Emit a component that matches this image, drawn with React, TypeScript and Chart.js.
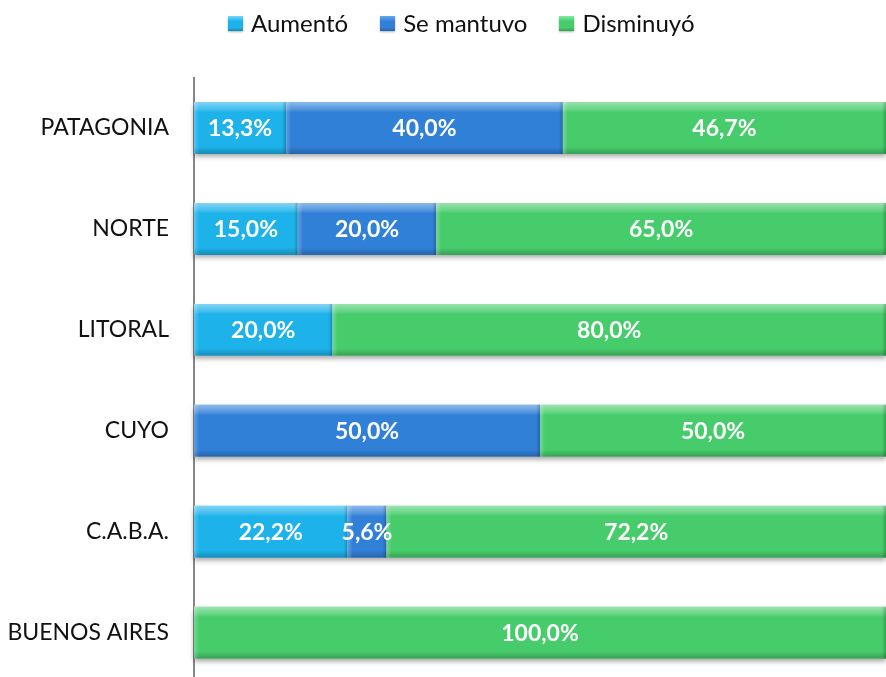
import { useEffect, useRef } from 'react';
import { Chart, registerables } from 'chart.js';
Chart.register(...registerables);

const categories = ['PATAGONIA', 'NORTE', 'LITORAL', 'CUYO', 'C.A.B.A.', 'BUENOS AIRES'];
const aumento = [13.3, 15.0, 20.0, 0, 22.2, 0];
const seMantuvo = [40.0, 20.0, 0, 50.0, 5.6, 0];
const disminuyo = [46.7, 65.0, 80.0, 50.0, 72.2, 100.0];
const seriesNames = ['Aumentó', 'Se mantuvo', 'Disminuyó'];
const seriesColors = ['#1db2ea', '#3180d8', '#47cc6c'];
const seriesLight = ['#6fd9fb', '#6aa6ee', '#86eba3'];

const fmt = (v: number) => v.toFixed(1).replace('.', ',') + '%';

const shadowPlugin = {
  id: 'barShadow',
  beforeDatasetsDraw(chart: any) {
    const ctx = chart.ctx;
    const n = chart.data.labels.length;
    for (let i = 0; i < n; i++) {
      let l = Infinity, r = -Infinity, t = 0, b = 0;
      chart.data.datasets.forEach((_: any, di: number) => {
        const el = chart.getDatasetMeta(di).data[i];
        if (!el) return;
        const p = el.getProps(['x', 'y', 'base', 'height'], true);
        if (Math.abs(p.x - p.base) < 0.5) return;
        l = Math.min(l, p.x, p.base);
        r = Math.max(r, p.x, p.base);
        t = p.y - p.height / 2;
        b = p.y + p.height / 2;
      });
      if (l === Infinity) continue;
      ctx.save();
      ctx.shadowColor = 'rgba(0,0,0,0.35)';
      ctx.shadowBlur = 5;
      ctx.shadowOffsetY = 3;
      ctx.fillStyle = '#ffffff';
      ctx.fillRect(l, t, r - l, b - t);
      ctx.restore();
    }
  },
};

const bevelPlugin = {
  id: 'bevelLabels',
  afterDatasetsDraw(chart: any) {
    const ctx = chart.ctx;
    chart.data.datasets.forEach((ds: any, di: number) => {
      const meta = chart.getDatasetMeta(di);
      meta.data.forEach((el: any) => {
        const p = el.getProps(['x', 'y', 'base', 'height'], true);
        const l = Math.min(p.x, p.base);
        const r = Math.max(p.x, p.base);
        const w = r - l;
        if (w < 0.5) return;
        const t = p.y - p.height / 2;
        const h = p.height;
        ctx.save();
        const g = ctx.createLinearGradient(0, t, 0, t + h);
        g.addColorStop(0, 'rgba(255,255,255,0.45)');
        g.addColorStop(0.15, 'rgba(255,255,255,0.15)');
        g.addColorStop(0.2, 'rgba(255,255,255,0)');
        g.addColorStop(0.86, 'rgba(0,0,0,0)');
        g.addColorStop(1, 'rgba(0,0,0,0.22)');
        ctx.fillStyle = g;
        ctx.fillRect(l, t, w, h);
        const gl = ctx.createLinearGradient(l, 0, l + 5, 0);
        gl.addColorStop(0, 'rgba(255,255,255,0.25)');
        gl.addColorStop(1, 'rgba(255,255,255,0)');
        ctx.fillStyle = gl;
        ctx.fillRect(l, t, Math.min(5, w), h);
        const gr = ctx.createLinearGradient(r - 4, 0, r, 0);
        gr.addColorStop(0, 'rgba(0,0,0,0)');
        gr.addColorStop(1, 'rgba(0,0,0,0.22)');
        ctx.fillStyle = gr;
        ctx.fillRect(r - Math.min(4, w), t, Math.min(4, w), h);
        ctx.restore();
      });
    });
    chart.data.datasets.forEach((ds: any, di: number) => {
      const meta = chart.getDatasetMeta(di);
      meta.data.forEach((el: any, i: number) => {
        const v = ds.data[i];
        if (!v) return;
        const p = el.getProps(['x', 'y', 'base'], true);
        ctx.save();
        ctx.fillStyle = '#ffffff';
        ctx.font = 'bold 23px Lato';
        ctx.textAlign = 'center';
        ctx.textBaseline = 'middle';
        ctx.fillText(fmt(v), (p.x + p.base) / 2, p.y + 1);
        ctx.restore();
      });
    });
  },
};

function LegendItem({ name, color, light }: { name: string; color: string; light: string }) {
  return (
    <div style={{ display: 'flex', alignItems: 'center' }}>
      <div
        style={{
          width: 15,
          height: 15,
          marginRight: 8,
          background: `linear-gradient(to bottom, ${light} 0%, ${color} 35%, ${color} 80%, rgba(0,0,0,0.25) 100%), ${color}`,
          boxShadow: '0 1px 2px rgba(0,0,0,0.3)',
        }}
      />
      <span>{name}</span>
    </div>
  );
}

export default function App() {
  const ref = useRef<HTMLCanvasElement | null>(null);
  useEffect(() => {
    let chart: Chart | null = null;
    let cancelled = false;
    const make = () => {
      if (cancelled || !ref.current) return;
      chart = new Chart(ref.current, {
        type: 'bar',
        data: {
          labels: categories,
          datasets: [aumento, seMantuvo, disminuyo].map((d, i) => ({
            label: seriesNames[i],
            data: d,
            backgroundColor: seriesColors[i],
            borderWidth: 0,
            barPercentage: 0.515,
            categoryPercentage: 1,
          })),
        },
        options: {
          indexAxis: 'y',
          animation: false,
          responsive: true,
          maintainAspectRatio: false,
          devicePixelRatio: 1,
          layout: { padding: { top: 77.5, bottom: 2.5, left: 0, right: 0 } },
          plugins: { legend: { display: false }, tooltip: { enabled: false } },
          scales: {
            x: { stacked: true, min: 0, max: 100, display: false },
            y: {
              stacked: true,
              grid: { display: false, drawTicks: false },
              border: { display: true, color: '#868686', width: 2 },
              ticks: { color: '#111111', font: { family: 'Lato', size: 23 }, padding: 25 },
              afterFit: (s: any) => {
                s.width = 194;
              },
            },
          },
        },
        plugins: [shadowPlugin, bevelPlugin],
      } as any);
    };
    const fonts: any = (document as any).fonts;
    if (fonts && fonts.load) {
      Promise.all([fonts.load('23px Lato'), fonts.load('bold 23px Lato')]).then(make, make);
    } else make();
    return () => {
      cancelled = true;
      if (chart) chart.destroy();
    };
  }, []);
  return (
    <div
      style={{
        position: 'fixed',
        left: 0,
        top: 0,
        width: 886,
        height: 677,
        overflow: 'hidden',
        background: '#ffffff',
      }}
    >
      <div
        style={{
          position: 'absolute',
          left: 228,
          top: 8,
          display: 'flex',
          gap: 32,
          fontFamily: 'Lato',
          fontSize: 24,
          color: '#111111',
          lineHeight: '30px',
          whiteSpace: 'nowrap',
          zIndex: 2,
        }}
      >
        {seriesNames.map((n, i) => (
          <LegendItem key={n} name={n} color={seriesColors[i]} light={seriesLight[i]} />
        ))}
      </div>
      <div style={{ position: 'absolute', left: 0, top: 0, width: 886, height: 722 }}>
        <canvas ref={ref} />
      </div>
    </div>
  );
}
